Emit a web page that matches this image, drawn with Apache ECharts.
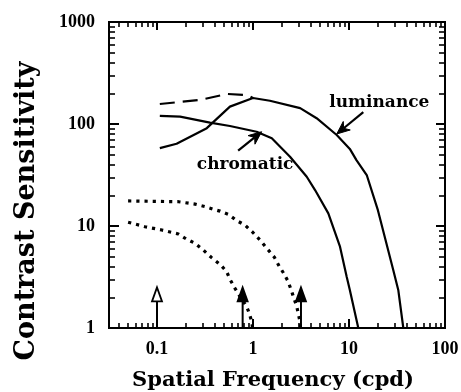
<!DOCTYPE html>
<html>
<head>
<meta charset="utf-8">
<script src="https://cdn.jsdelivr.net/npm/echarts@6/dist/echarts.min.js"></script>
<style>
  html, body { margin: 0; padding: 0; background: #fff; }
  #chart { width: 461px; height: 392px; }
</style>
</head>
<body>
<div id="chart"></div>
<script>
// Luminance contrast sensitivity (solid)
const lumFreq = [0.107, 0.16, 0.33, 0.575, 1.0, 1.5, 3.1, 4.6, 7.45, 10.2, 12.0, 15.3, 20.0, 28.9, 32.6, 36.8];
const lumSens = [58, 64, 91, 148, 180, 169, 143, 114, 78, 57, 44, 31.6, 14.3, 3.7, 2.36, 1.0];
// Luminance at low frequencies, alternative estimate (dashed)
const lumAltFreq = [0.107, 0.28, 0.54, 0.87, 1.0];
const lumAltSens = [157, 172, 197, 192, 180];
// Chromatic contrast sensitivity (solid)
const chromFreq = [0.107, 0.174, 0.356, 0.575, 1.09, 1.57, 2.43, 3.63, 4.43, 6.09, 8.06, 9.46, 10.2, 12.5];
const chromSens = [120, 118, 103, 95.6, 84, 72.4, 47.8, 30.4, 22.5, 13.3, 6.27, 3.18, 2.36, 1.0];
// Dotted curves
const dotUpperFreq = [0.05, 0.167, 0.249, 0.316, 0.385, 0.453, 0.553, 0.676, 0.826, 0.99, 1.18, 1.41, 1.67, 1.87, 2.07, 2.30, 2.49, 2.67, 2.85, 2.96, 3.09, 3.13];
const dotUpperSens = [17.6, 17.3, 16.4, 15.5, 14.6, 14.0, 13.0, 11.3, 10.2, 8.7, 7.3, 5.96, 4.93, 4.05, 3.48, 2.91, 2.39, 1.95, 1.64, 1.39, 1.15, 1.0];
const dotLowerFreq = [0.05, 0.075, 0.112, 0.167, 0.204, 0.249, 0.303, 0.371, 0.461, 0.532, 0.576, 0.649, 0.733, 0.86, 0.915, 0.97, 0.99];
const dotLowerSens = [10.9, 9.84, 9.14, 8.35, 7.41, 6.77, 5.82, 4.89, 4.15, 3.56, 3.0, 2.45, 2.03, 1.62, 1.39, 1.15, 1.0];
// Frequency markers along the bottom (open = hollow head)
const markerFreq = [0.1, 0.78, 3.16];
const markerTop = [2.5, 2.5, 2.5];
const markerOpen = [1, 0, 0];
// Curve labels with pointer arrows: [tail freq, tail sens, head freq, head sens]
const pointerNames = ['luminance', 'chromatic'];
const pointerTail = [[14.1, 131], [0.70, 54.7]];
const pointerHead = [[7.45, 79.8], [1.23, 84]];
// Axis ticks and labels
const xMajor = [0.1, 1, 10, 100];
const xMajorLabels = ['0.1', '1', '10', '100'];
const xMinor = [0.04, 0.05, 0.06, 0.07, 0.08, 0.09, 0.2, 0.3, 0.4, 0.5, 0.6, 0.7, 0.8, 0.9,
  2, 3, 4, 5, 6, 7, 8, 9, 20, 30, 40, 50, 60, 70, 80, 90];
const yMajor = [1, 10, 100, 1000];
const yMajorLabels = ['1', '10', '100', '1000'];
const yMinor = [2, 3, 4, 5, 6, 7, 8, 9, 20, 30, 40, 50, 60, 70, 80, 90, 200, 300, 400, 500, 600, 700, 800, 900];

const X_MIN = Math.pow(10, -1.5), X_MAX = 100, Y_MIN = 1, Y_MAX = 1000;
const serif = 'DejaVu Serif';
const tickFont = 'Liberation Serif';

function labelFor(values, labels) {
  return function (v) {
    for (let i = 0; i < values.length; i++) {
      if (Math.abs(Math.log10(v) - Math.log10(values[i])) < 1e-6) return labels[i];
    }
    return '';
  };
}

function logAxis(o) {
  return Object.assign({
    type: 'log', logBase: 10,
    splitLine: { show: false },
    axisLine: { show: true, lineStyle: { color: '#000', width: 2 } },
    axisLabel: { show: false },
  }, o);
}

const pairs = (a, b) => a.map((v, i) => [v, b[i]]);

const gridBox = { left: 109, right: 16, top: 22, bottom: 64, containLabel: false, outerBoundsMode: 'none' };

const option = {
  animation: false,
  backgroundColor: '#fff',
  grid: [Object.assign({}, gridBox), Object.assign({}, gridBox)],
  xAxis: [
    logAxis({
      gridIndex: 0, position: 'bottom', min: X_MIN, max: X_MAX,
      axisTick: { show: true, inside: true, length: 9, customValues: xMajor, lineStyle: { color: '#000', width: 2 } },
      axisLabel: {
        show: true, customValues: xMajor, formatter: labelFor(xMajor, xMajorLabels),
        color: '#000', fontFamily: tickFont, fontWeight: 'bold', fontSize: 18, margin: 12
      },
      name: 'Spatial Frequency (cpd)', nameLocation: 'middle', nameGap: 42,
      nameTextStyle: { fontFamily: serif, fontWeight: 'bold', fontSize: 21, color: '#000', padding: [0, 8, 0, 0] }
    }),
    logAxis({
      gridIndex: 0, position: 'top', min: X_MIN, max: X_MAX,
      axisTick: { show: true, inside: true, length: 8, customValues: xMajor, lineStyle: { color: '#000', width: 2 } }
    }),
    logAxis({
      gridIndex: 1, position: 'bottom', min: X_MIN, max: X_MAX,
      axisTick: { show: true, inside: true, length: 5, customValues: xMinor, lineStyle: { color: '#000', width: 1.6 } }
    }),
    logAxis({
      gridIndex: 1, position: 'top', min: X_MIN, max: X_MAX,
      axisTick: { show: true, inside: true, length: 5, customValues: xMinor, lineStyle: { color: '#000', width: 1.6 } }
    })
  ],
  yAxis: [
    logAxis({
      gridIndex: 0, position: 'left', min: Y_MIN, max: Y_MAX,
      axisTick: { show: true, inside: true, length: 10, customValues: yMajor, lineStyle: { color: '#000', width: 2 } },
      axisLabel: {
        show: true, customValues: yMajor, formatter: labelFor(yMajor, yMajorLabels),
        color: '#000', fontFamily: tickFont, fontWeight: 'bold', fontSize: 18, margin: 14
      },
      name: 'Contrast Sensitivity', nameLocation: 'middle', nameGap: 69, nameRotate: 90,
      nameTextStyle: { fontFamily: serif, fontWeight: 'bold', fontSize: 27, color: '#000', padding: [0, 72, 0, 0] }
    }),
    logAxis({
      gridIndex: 0, position: 'right', min: Y_MIN, max: Y_MAX,
      axisTick: { show: true, inside: true, length: 9, customValues: yMajor, lineStyle: { color: '#000', width: 2 } }
    }),
    logAxis({
      gridIndex: 1, position: 'left', min: Y_MIN, max: Y_MAX,
      axisTick: { show: true, inside: true, length: 6, customValues: yMinor, lineStyle: { color: '#000', width: 1.6 } }
    }),
    logAxis({
      gridIndex: 1, position: 'right', min: Y_MIN, max: Y_MAX,
      axisTick: { show: true, inside: true, length: 6, customValues: yMinor, lineStyle: { color: '#000', width: 1.6 } }
    })
  ],
  series: [
    {
      name: 'luminance', type: 'line', xAxisIndex: 0, yAxisIndex: 0,
      data: pairs(lumFreq, lumSens), showSymbol: false, symbol: 'none',
      lineStyle: { color: '#000', width: 2.2 }
    },
    {
      name: 'luminance (dashed)', type: 'line', xAxisIndex: 0, yAxisIndex: 0,
      data: pairs(lumAltFreq, lumAltSens), showSymbol: false, symbol: 'none',
      lineStyle: { color: '#000', width: 2.2, type: [15, 8], cap: 'butt' }
    },
    {
      name: 'chromatic', type: 'line', xAxisIndex: 0, yAxisIndex: 0,
      data: pairs(chromFreq, chromSens), showSymbol: false, symbol: 'none',
      lineStyle: { color: '#000', width: 2.2 }
    },
    {
      name: 'dotted upper', type: 'line', xAxisIndex: 0, yAxisIndex: 0,
      data: pairs(dotUpperFreq, dotUpperSens), showSymbol: false, symbol: 'none',
      lineStyle: { color: '#000', width: 3.2, type: [3.2, 5], cap: 'butt' }
    },
    {
      name: 'dotted lower', type: 'line', xAxisIndex: 0, yAxisIndex: 0,
      data: pairs(dotLowerFreq, dotLowerSens), showSymbol: false, symbol: 'none',
      lineStyle: { color: '#000', width: 3.2, type: [3.2, 5], cap: 'butt' }
    },
    {
      name: 'markers', type: 'custom', xAxisIndex: 0, yAxisIndex: 0,
      data: markerFreq.map((f, i) => [f, markerTop[i], markerOpen[i]]),
      renderItem: function (params, api) {
        const f = api.value(0);
        const base = api.coord([f, Y_MIN]);
        const tip = api.coord([f, api.value(1)]);
        const open = api.value(2) === 1;
        const hw = 5, hh = 14;
        return {
          type: 'group',
          children: [
            { type: 'line', shape: { x1: base[0], y1: base[1], x2: tip[0], y2: tip[1] + hh },
              style: { stroke: '#000', lineWidth: 2 } },
            { type: 'polygon',
              shape: { points: [[tip[0], tip[1]], [tip[0] - hw, tip[1] + hh], [tip[0] + hw, tip[1] + hh]] },
              style: { fill: open ? '#fff' : '#000', stroke: '#000', lineWidth: 1.8 } }
          ]
        };
      }
    },
    {
      name: 'pointers', type: 'custom', xAxisIndex: 0, yAxisIndex: 0,
      dimensions: ['tx', 'ty', 'hx', 'hy'],
      encode: { x: [0, 2], y: [1, 3] },
      data: pointerNames.map((n, i) => ({ name: n, value: pointerTail[i].concat(pointerHead[i]) })),
      renderItem: function (params, api) {
        const tail = api.coord([api.value(0), api.value(1)]);
        const head = api.coord([api.value(2), api.value(3)]);
        const dx = head[0] - tail[0], dy = head[1] - tail[1];
        const len = Math.sqrt(dx * dx + dy * dy);
        const ux = dx / len, uy = dy / len, px = -uy, py = ux;
        const hl = 13, hw = 5.5, notch = 9;
        const bx = head[0] - ux * hl, by = head[1] - uy * hl;
        const nx = head[0] - ux * notch, ny = head[1] - uy * notch;
        const isLum = params.dataIndex === 0;
        const label = pointerNames[params.dataIndex];
        const tpos = isLum ? [tail[0] + 16, tail[1] - 9] : [tail[0] + 7, tail[1] + 14];
        return {
          type: 'group',
          children: [
            { type: 'line', shape: { x1: tail[0], y1: tail[1], x2: nx, y2: ny },
              style: { stroke: '#000', lineWidth: 2.2 } },
            { type: 'polygon',
              shape: { points: [[head[0], head[1]], [bx + px * hw, by + py * hw], [nx, ny], [bx - px * hw, by - py * hw]] },
              style: { fill: '#000', stroke: '#000', lineWidth: 1 } },
            { type: 'text', x: tpos[0], y: tpos[1],
              style: { text: label, fill: '#000', font: 'bold 17px "' + serif + '"', align: 'center', verticalAlign: 'middle' } }
          ]
        };
      }
    }
  ]
};

const chart = echarts.init(document.getElementById('chart'), null, { renderer: 'canvas' });
chart.setOption(option);
</script>
</body>
</html>
